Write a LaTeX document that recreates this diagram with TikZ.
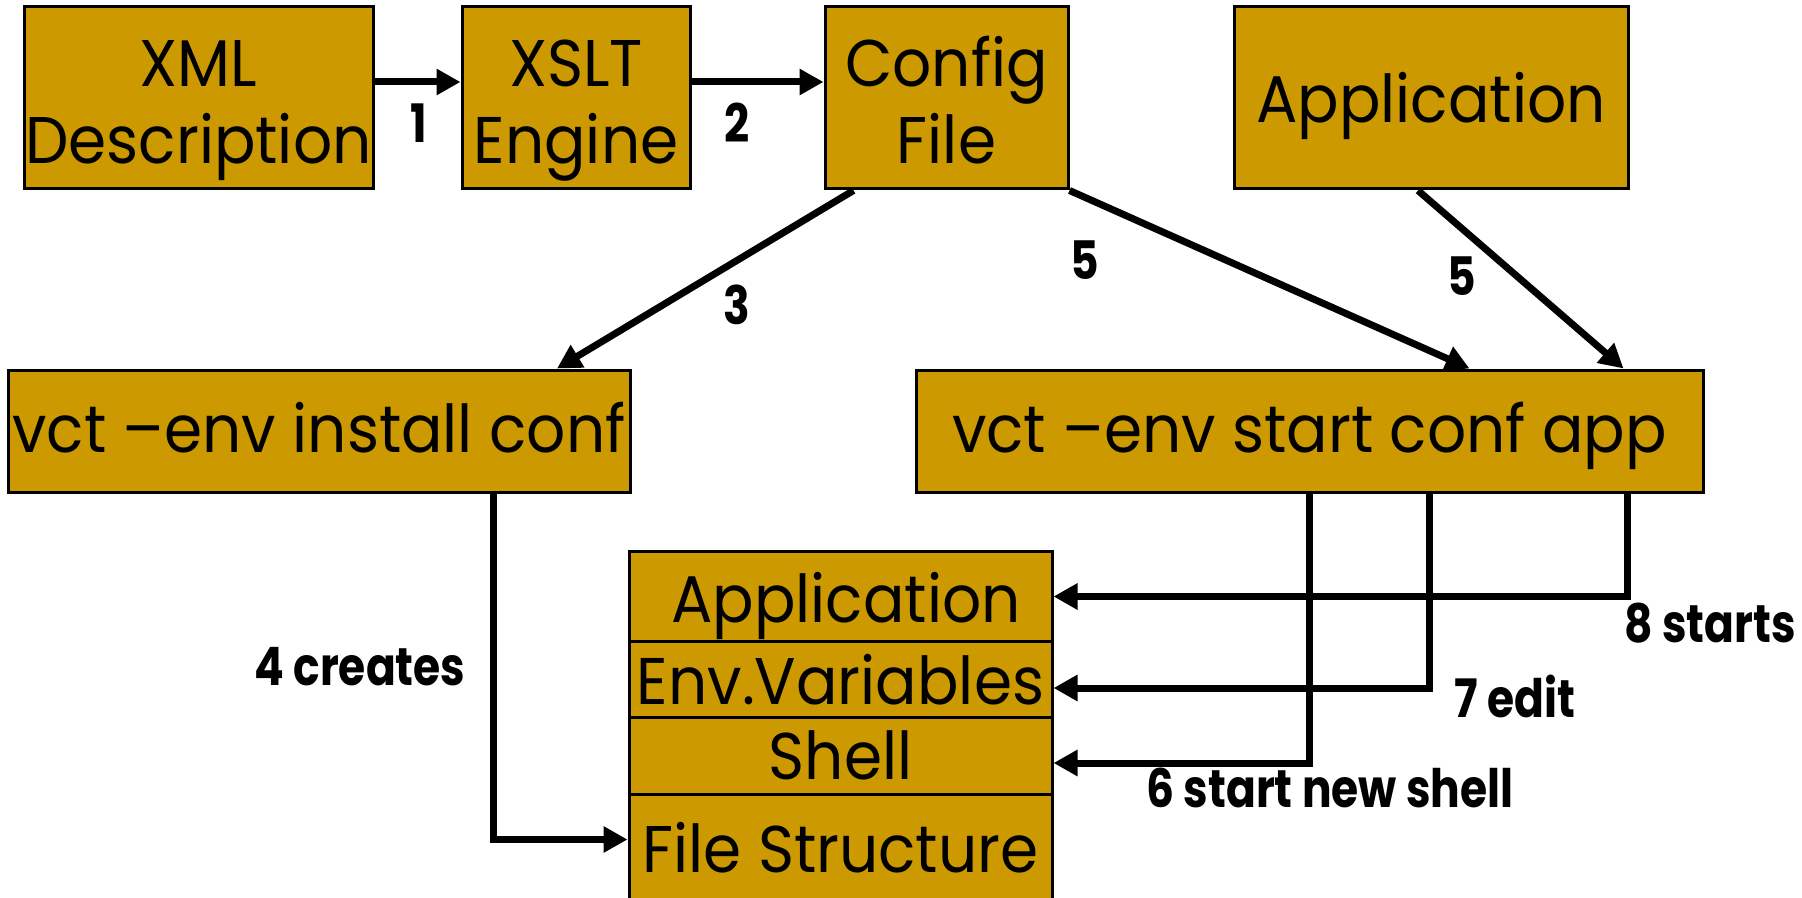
\documentclass[tikz,border=0pt]{standalone}
\usepackage{fontspec}
\setmainfont{Poppins}[FakeStretch=0.93]
\newfontfamily\stepfont{Poppins Bold}[FakeStretch=0.83]
\usetikzlibrary{arrows.meta}
\definecolor{gold}{HTML}{CC9900}
% box text: centred lines, drawn a little below the middle of the box
\newcommand{\boxtext}[2][5pt]{\raisebox{-#1}[\height][\depth]{\begin{tabular}{@{}c@{}}#2\end{tabular}}}
\tikzset{
  box/.style={draw=black, line width=1.5pt, fill=gold, inner sep=0pt,
    font=\fontsize{33}{38.5}\selectfont},
  flow/.style={line width=3.5pt, line join=miter,
    -{Triangle[length=12pt,width=12.5pt]}},
  tag/.style={font=\stepfont\fontsize{26.5}{30}\selectfont, inner sep=0pt}
}
\begin{document}
\begin{tikzpicture}[x=0.5pt, y=-0.5pt]
\clip (0,0) rectangle (1802,898);
\fill[white] (0,0) rectangle (1802,898);

% top row
\node[box, minimum width=174.5pt, minimum height=91pt] (xml) at (198.5,98) {\boxtext[6pt]{XML\\Description}};
\node[box, minimum width=114pt, minimum height=91pt] (xslt) at (576,98) {\boxtext[6pt]{XSLT\\Engine}};
\node[box, minimum width=121.5pt, minimum height=91pt] (config) at (946.5,98) {\boxtext[6pt]{Config\\File}};
\node[box, minimum width=197pt, minimum height=91pt] (apptop) at (1431,98) {\boxtext[4.5pt]{Application}};

% commands
\node[box, minimum width=311pt, minimum height=61pt] (install) at (319,431) {\boxtext[3pt]{vct –env install conf}};
\node[box, minimum width=393.5pt, minimum height=61pt] (start) at (1309.5,431) {\boxtext[3pt]{vct –env start conf app}};

% layered environment
\node[box, minimum width=211.5pt, minimum height=45.5pt] (applayer) at (840.5,596.5) {\boxtext[5.5pt]{\,Application}};
\node[box, minimum width=211.5pt, minimum height=38pt] (envlayer) at (840.5,680) {\boxtext[4.5pt]{Env.Variables}};
\node[box, minimum width=211.5pt, minimum height=38pt] (shelllayer) at (840.5,756) {\boxtext[4pt]{Shell}};
\node[box, minimum width=211.5pt, minimum height=55.5pt] (filelayer) at (840.5,849.5) {\boxtext[4pt]{File Structure}};

% connectors
\draw[flow] ([yshift=8pt]xml.east) -- ([yshift=8pt]xslt.west);
\draw[flow] ([yshift=8pt]xslt.east) -- ([yshift=8pt]config.west);
\draw[flow] ([xshift=15pt]config.south west) -- ([xshift=119pt]install.north);
\draw[flow] (config.south east) -- ([xshift=80pt]start.north);
\draw[flow] ([xshift=-6.5pt]apptop.south) -- ([xshift=157pt]start.north);
\draw[flow] ([xshift=87pt]install.south) |- ([yshift=5pt]filelayer.west);
\draw[flow] ([xshift=158.75pt]start.south) |- (applayer.east);
\draw[flow] ([xshift=59.75pt]start.south) |- ([yshift=-4pt]envlayer.east);
\draw[flow] (start.south) |- ([yshift=-3.5pt]shelllayer.east);

% step labels
\node[tag] (l1) at (419,123) {1};
\node[tag] (l2) at (737,123) {2};
\node[tag] (l3) at (737,305) {3};
\node[tag] (l5a) at (1085,260) {5};
\node[tag] (l5b) at (1462,276) {5};
\node[tag] (l4) at (360,667) {4 creates};
\node[tag] (l8) at (1710,623) {8 starts};
\node[tag] (l7) at (1515,696) {7 edit};
\node[tag] (l6) at (1330,788) {6 start new shell};
\end{tikzpicture}
\end{document}
